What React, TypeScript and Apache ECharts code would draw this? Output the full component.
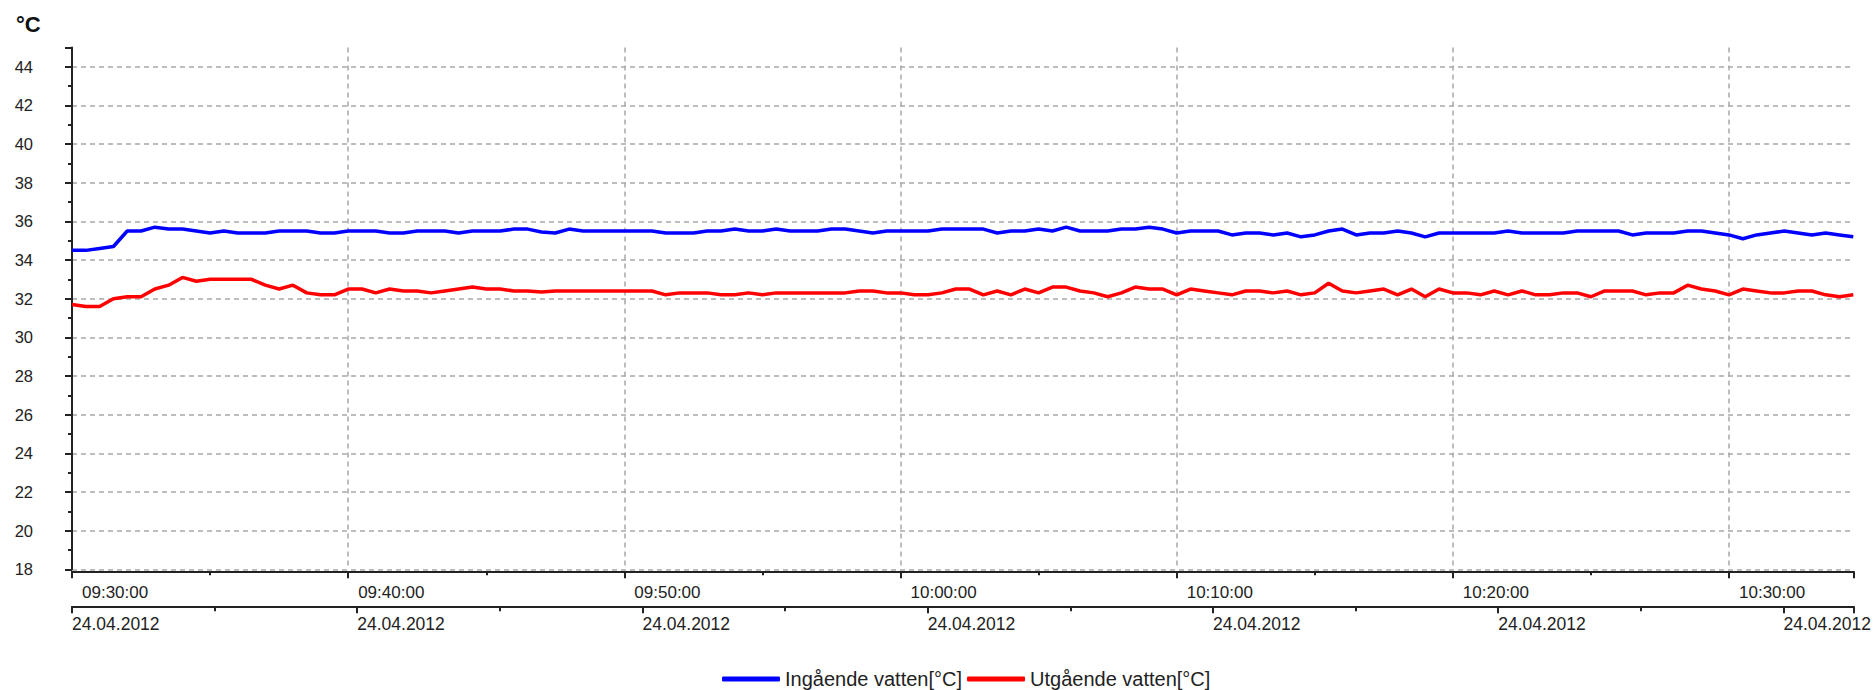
import React, { useEffect, useRef } from "react";
import * as echarts from "echarts";

// ---- Data ----
const START_TIME = "09:30:00";
const SAMPLE_SECONDS = 30;
const DATE_LABEL = "24.04.2012";
const Y_UNIT = "°C";
const SERIES_NAMES = ["Ingående vatten[°C]", "Utgående vatten[°C]"];

const inletTemps = [
  34.5, 34.5, 34.6, 34.7, 35.5, 35.5, 35.7, 35.6, 35.6, 35.5,
  35.4, 35.5, 35.4, 35.4, 35.4, 35.5, 35.5, 35.5, 35.4, 35.4,
  35.5, 35.5, 35.5, 35.4, 35.4, 35.5, 35.5, 35.5, 35.4, 35.5,
  35.5, 35.5, 35.6, 35.6, 35.45, 35.4, 35.6, 35.5, 35.5, 35.5,
  35.5, 35.5, 35.5, 35.4, 35.4, 35.4, 35.5, 35.5, 35.6, 35.5,
  35.5, 35.6, 35.5, 35.5, 35.5, 35.6, 35.6, 35.5, 35.4, 35.5,
  35.5, 35.5, 35.5, 35.6, 35.6, 35.6, 35.6, 35.4, 35.5, 35.5,
  35.6, 35.5, 35.7, 35.5, 35.5, 35.5, 35.6, 35.6, 35.7, 35.6,
  35.4, 35.5, 35.5, 35.5, 35.3, 35.4, 35.4, 35.3, 35.4, 35.2,
  35.3, 35.5, 35.6, 35.3, 35.4, 35.4, 35.5, 35.4, 35.2, 35.4,
  35.4, 35.4, 35.4, 35.4, 35.5, 35.4, 35.4, 35.4, 35.4, 35.5,
  35.5, 35.5, 35.5, 35.3, 35.4, 35.4, 35.4, 35.5, 35.5, 35.4,
  35.3, 35.1, 35.3, 35.4, 35.5, 35.4, 35.3, 35.4, 35.3, 35.2,
];

const outletTemps = [
  31.7, 31.6, 31.6, 32.0, 32.1, 32.1, 32.5, 32.7, 33.1, 32.9,
  33.0, 33.0, 33.0, 33.0, 32.7, 32.5, 32.7, 32.3, 32.2, 32.2,
  32.5, 32.5, 32.3, 32.5, 32.4, 32.4, 32.3, 32.4, 32.5, 32.6,
  32.5, 32.5, 32.4, 32.4, 32.35, 32.4, 32.4, 32.4, 32.4, 32.4,
  32.4, 32.4, 32.4, 32.2, 32.3, 32.3, 32.3, 32.2, 32.2, 32.3,
  32.2, 32.3, 32.3, 32.3, 32.3, 32.3, 32.3, 32.4, 32.4, 32.3,
  32.3, 32.2, 32.2, 32.3, 32.5, 32.5, 32.2, 32.4, 32.2, 32.5,
  32.3, 32.6, 32.6, 32.4, 32.3, 32.1, 32.3, 32.6, 32.5, 32.5,
  32.2, 32.5, 32.4, 32.3, 32.2, 32.4, 32.4, 32.3, 32.4, 32.2,
  32.3, 32.8, 32.4, 32.3, 32.4, 32.5, 32.2, 32.5, 32.1, 32.5,
  32.3, 32.3, 32.2, 32.4, 32.2, 32.4, 32.2, 32.2, 32.3, 32.3,
  32.1, 32.4, 32.4, 32.4, 32.2, 32.3, 32.3, 32.7, 32.5, 32.4,
  32.2, 32.5, 32.4, 32.3, 32.3, 32.4, 32.4, 32.2, 32.1, 32.2,
];

// ---- helpers ----
const toSeconds = (hms: string) => {
  const [h, m, s] = hms.split(":").map(Number);
  return h * 3600 + m * 60 + s;
};
const pad = (n: number) => String(n).padStart(2, "0");
const fmtTime = (secs: number) => {
  const h = Math.floor(secs / 3600);
  const m = Math.floor((secs % 3600) / 60);
  const s = Math.round(secs % 60);
  return `${pad(h)}:${pad(m)}:${pad(s)}`;
};

const startSec = toSeconds(START_TIME);
const timeAt = (i: number) => startSec + i * SAMPLE_SECONDS;
const inletData = inletTemps.map((v, i) => [timeAt(i), v]);
const outletData = outletTemps.map((v, i) => [timeAt(i), v]);
const endSec = timeAt(inletTemps.length - 1);

const FONT = "'Liberation Sans', Arial, sans-serif";
const AXIS_COLOR = "#222";
const GRID_COLOR = "#a8a8a8";

export default function App() {
  const ref = useRef<HTMLDivElement>(null);

  useEffect(() => {
    if (!ref.current) return;
    const chart = echarts.init(ref.current, null, { renderer: "svg" });
    const option: any = {
      animation: false,
      backgroundColor: "#fff",
      textStyle: { fontFamily: FONT },
      graphic: [
        {
          type: "text",
          left: 16,
          top: 13,
          style: {
            text: Y_UNIT,
            font: `bold 22px ${FONT}`,
            fill: "#111",
          },
        },
      ],
      grid: { left: 72, right: 18, top: 47.4, bottom: 120.7, containLabel: false },
      legend: {
        left: 717,
        top: 664,
        icon: "roundRect",
        itemWidth: 58,
        itemHeight: 5,
        itemGap: 5,
        textStyle: { fontSize: 20, color: "#222", fontFamily: FONT },
        data: SERIES_NAMES,
      },
      xAxis: [
        {
          type: "value",
          min: startSec,
          max: endSec,
          interval: 600,
          offset: 2,
          axisLine: { show: true, lineStyle: { color: AXIS_COLOR, width: 2 } },
          axisTick: { show: true, length: 7, lineStyle: { color: AXIS_COLOR, width: 2 } },
          minorTick: { show: true, splitNumber: 2, length: 4, lineStyle: { color: AXIS_COLOR, width: 2 } },
          axisLabel: {
            formatter: (v: number) => fmtTime(v),
            align: "left",
            padding: [0, 0, 0, 10],
            margin: 13,
            fontSize: 17,
            color: "#222",
            fontFamily: FONT,
            showMaxLabel: false,
          },
          splitLine: {
            show: true,
            showMinLine: false,
            showMaxLine: false,
            lineStyle: { color: GRID_COLOR, type: [5, 4], width: 1.5 },
          },
        },
        {
          type: "value",
          position: "bottom",
          gridIndex: 0,
          min: 0,
          max: 12.49,
          interval: 2,
          offset: 37,
          axisLine: { show: true, lineStyle: { color: AXIS_COLOR, width: 2 } },
          axisTick: { show: true, length: 7, lineStyle: { color: AXIS_COLOR, width: 2 } },
          minorTick: { show: true, splitNumber: 2, length: 5, lineStyle: { color: AXIS_COLOR, width: 2 } },
          axisLabel: {
            formatter: () => DATE_LABEL,
            align: "left",
            margin: 9,
            fontSize: 17.5,
            color: "#222",
            fontFamily: FONT,
            showMaxLabel: false,
          },
          splitLine: { show: false },
        },
      ],
      yAxis: {
        type: "value",
        min: 18,
        max: 45,
        interval: 2,
        axisLine: { show: true, lineStyle: { color: AXIS_COLOR, width: 2 } },
        axisTick: { show: true, length: 7, lineStyle: { color: AXIS_COLOR, width: 2 } },
        minorTick: { show: true, splitNumber: 2, length: 4, lineStyle: { color: AXIS_COLOR, width: 2 } },
        axisLabel: {
          margin: 39,
          fontSize: 16.5,
          color: "#222",
          fontFamily: FONT,
          showMaxLabel: false,
        },
        splitLine: {
          show: true,
          showMaxLine: false,
          lineStyle: { color: GRID_COLOR, type: [5, 4], width: 1.5 },
        },
      },
      series: [
        {
          name: SERIES_NAMES[0],
          type: "line",
          xAxisIndex: 0,
          data: inletData,
          showSymbol: false,
          symbol: "none",
          lineStyle: { color: "#0000ff", width: 3.5 },
          itemStyle: { color: "#0000ff" },
        },
        {
          name: SERIES_NAMES[1],
          type: "line",
          xAxisIndex: 0,
          data: outletData,
          showSymbol: false,
          symbol: "none",
          lineStyle: { color: "#ff0000", width: 3.5 },
          itemStyle: { color: "#ff0000" },
        },
      ],
    };
    chart.setOption(option);
    return () => chart.dispose();
  }, []);

  return (
    <div
      ref={ref}
      style={{ position: "fixed", left: 0, top: 0, width: 1874, height: 690, background: "#fff" }}
    />
  );
}
